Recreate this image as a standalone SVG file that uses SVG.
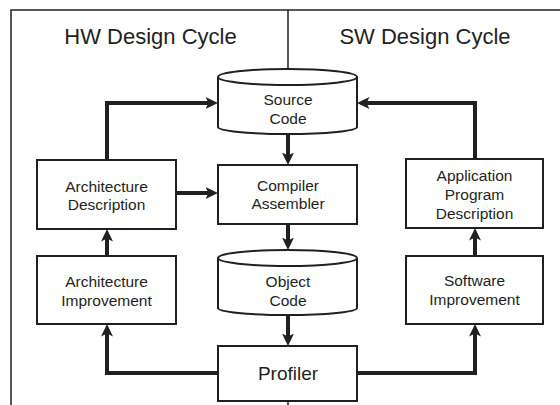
<svg xmlns="http://www.w3.org/2000/svg" width="560" height="405" viewBox="0 0 560 405">
<style>
.box{fill:#fff;stroke:#231f20;stroke-width:2}
.t{font-family:"Liberation Sans",Arial,sans-serif;font-size:15.5px;fill:#231f20;text-anchor:middle}
.title{font-family:"Liberation Sans",Arial,sans-serif;font-size:22px;fill:#231f20;text-anchor:middle}
.frame{fill:none;stroke:#231f20;stroke-width:1.5}
.c{fill:none;stroke:#231f20;stroke-width:4;marker-end:url(#ah)}
</style>
<defs>
<marker id="ah" markerUnits="userSpaceOnUse" markerWidth="13" markerHeight="12" refX="6" refY="6" orient="auto">
<path d="M0,0 L12.5,6 L0,12 L3,6 Z" fill="#231f20"/>
</marker>
</defs>
<rect width="560" height="405" fill="#fff"/>
<g id="frame">
<path class="frame" d="M11,405 V10 H560"/>
<path class="frame" d="M288,10 V70 M288,401 V405"/>
<text class="title" x="150.5" y="44">HW Design Cycle</text>
<text class="title" x="425" y="44">SW Design Cycle</text>
</g>
<g id="connectors">
<path class="c" d="M107,160 V103 H211.5"/>
<path class="c" d="M176,193 H211.5"/>
<path class="c" d="M107,256 V235.5"/>
<path class="c" d="M218,373 H107 V330.5"/>
<path class="c" d="M357,373 H475 V330.5"/>
<path class="c" d="M475,256 V234.5"/>
<path class="c" d="M475,159 V103 H363.5"/>
<path class="c" d="M288,134 V158.5"/>
<path class="c" d="M288,224 V243.5"/>
<path class="c" d="M288,315 V339.5"/>
</g>
<g id="source-code">
<path class="box" d="M218,77 A69.5,8 0 0 1 357,77 V127 A69.5,7 0 0 1 218,127 Z"/>
<path class="box" fill="none" d="M218,77 A69.5,8 0 0 0 357,77"/>
<text class="t" x="288" y="105">Source</text>
<text class="t" x="288" y="124">Code</text>
</g>
<g id="compiler">
<rect class="box" x="218" y="165" width="139" height="59"/>
<text class="t" x="288" y="191">Compiler</text>
<text class="t" x="288" y="209">Assembler</text>
</g>
<g id="object-code">
<path class="box" d="M218,258 A69.5,8 0 0 1 357,258 V308 A69.5,7 0 0 1 218,308 Z"/>
<path class="box" fill="none" d="M218,258 A69.5,8 0 0 0 357,258"/>
<text class="t" x="288" y="287">Object</text>
<text class="t" x="288" y="306">Code</text>
</g>
<g id="profiler">
<rect class="box" x="218" y="346" width="139" height="55"/>
<text class="t" x="288" y="380" style="font-size:19px">Profiler</text>
</g>
<g id="arch-desc">
<rect class="box" x="37" y="160" width="139" height="69"/>
<text class="t" x="106.5" y="192">Architecture</text>
<text class="t" x="106.5" y="210">Description</text>
</g>
<g id="arch-imp">
<rect class="box" x="37" y="256" width="139" height="68"/>
<text class="t" x="106.5" y="287">Architecture</text>
<text class="t" x="106.5" y="306">Improvement</text>
</g>
<g id="app-desc">
<rect class="box" x="406" y="159" width="137" height="69"/>
<text class="t" x="474.5" y="181">Application</text>
<text class="t" x="474.5" y="200">Program</text>
<text class="t" x="474.5" y="219">Description</text>
</g>
<g id="sw-imp">
<rect class="box" x="406" y="256" width="137" height="68"/>
<text class="t" x="474.5" y="286">Software</text>
<text class="t" x="474.5" y="305">Improvement</text>
</g>
</svg>
